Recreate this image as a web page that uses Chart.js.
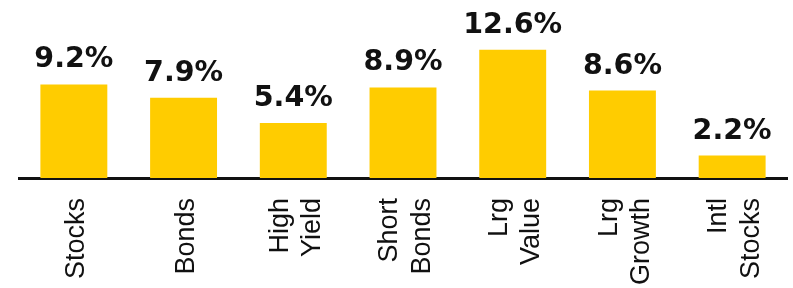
<!DOCTYPE html>
<html>
<head>
<meta charset="utf-8">
<script src="https://cdn.jsdelivr.net/npm/chart.js@4/dist/chart.umd.min.js"></script>
<style>
  html, body { margin: 0; padding: 0; background: #fff; }
  #wrap { width: 793px; height: 288px; position: relative; }
</style>
</head>
<body>
<div id="wrap"><canvas id="c" width="793" height="288"></canvas></div>
<script>
const categories = [["Stocks"], ["Bonds"], ["High", "Yield"], ["Short", "Bonds"], ["Lrg", "Value"], ["Lrg", "Growth"], ["Intl", "Stocks"]];
const returns = [9.2, 7.9, 5.4, 8.9, 12.6, 8.6, 2.2];
const valueLabels = ["9.2%", "7.9%", "5.4%", "8.9%", "12.6%", "8.6%", "2.2%"];

const valueLabelPlugin = {
  id: 'valueLabels',
  afterDatasetsDraw(chart) {
    const ctx = chart.ctx;
    const meta = chart.getDatasetMeta(0);
    ctx.save();
    ctx.font = 'bold 28.5px "DejaVu Sans", sans-serif';
    ctx.fillStyle = '#111';
    ctx.textAlign = 'center';
    ctx.textBaseline = 'alphabetic';
    meta.data.forEach((bar, i) => {
      ctx.fillText(valueLabels[i], bar.x, bar.y - 17);
    });
    ctx.restore();
  }
};

// centre multi-line rotated tick labels on their tick
const centerTicksPlugin = {
  id: 'centerTicks',
  beforeDraw(chart) {
    const sx = chart.scales.x;
    const items = sx.getLabelItems(chart.chartArea);
    const lh = 27 * 1.2;
    items.forEach(it => {
      if (it._centred) return;
      const n = Array.isArray(it.label) ? it.label.length : 1;
      it.textOffset = (it.textOffset || 0) - (n - 1) * lh / 2 + 3;
      it._centred = true;
    });
  }
};

new Chart(document.getElementById('c'), {
  type: 'bar',
  data: {
    labels: categories,
    datasets: [{
      data: returns,
      backgroundColor: '#FFCC00',
      borderWidth: 0,
      barPercentage: 0.61,
      categoryPercentage: 1.0
    }]
  },
  options: {
    responsive: false,
    animation: false,
    devicePixelRatio: 1,
    layout: { padding: { left: 19, right: 6, top: 0, bottom: 0 } },
    plugins: { legend: { display: false }, tooltip: { enabled: false } },
    scales: {
      x: {
        grid: { display: false, drawTicks: false },
        border: { display: true, color: '#111', width: 3 },
        ticks: {
          autoSkip: false,
          minRotation: 90,
          maxRotation: 90,
          padding: 20,
          color: '#111',
          font: { family: '"Liberation Sans", Arial, sans-serif', size: 27, lineHeight: 1.2 }
        },
        afterFit: (s) => { s.height = 110; s.paddingLeft = 0; s.paddingRight = 0; }
      },
      y: {
        display: false,
        min: 0,
        max: 17.5
      }
    }
  },
  plugins: [valueLabelPlugin, centerTicksPlugin]
});
</script>
</body>
</html>
